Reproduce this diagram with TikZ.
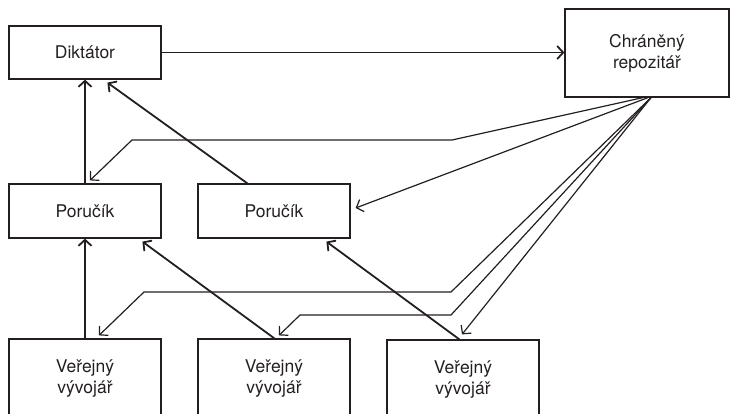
\documentclass[tikz,border=0pt]{standalone}
\usepackage{fontspec}
\setmainfont{TeX Gyre Heros}
\usetikzlibrary{arrows.meta,calc}
\definecolor{ink}{HTML}{231F20}
\begin{document}
\begin{tikzpicture}[x=1pt,y=-1pt,
  box/.style={draw=ink, text=ink, line width=1.2pt, minimum width=152pt, align=center, inner sep=0pt, font=\fontsize{17.5}{21}\selectfont},
  main/.style={draw=ink, line width=1.8pt, -{Straight Barb[length=6pt,width=13pt]}},
  thinarr/.style={draw=ink, line width=1.2pt, -{Straight Barb[length=6pt,width=13pt]}}]
\useasboundingbox (0,0) rectangle (730,413);
\clip (0,0) rectangle (730,413);
\node[box, minimum height=53pt] (dik) at (85,52.5) {Diktátor};
\node[box, minimum width=164pt, minimum height=88pt] (repo) at (647,53) {Chráněný\\repozitář};
\node[box, minimum height=54pt] (p1) at (85,211) {Poručík};
\node[box, minimum height=54pt] (p2) at (274,211) {Poručík};
\node[box, minimum height=80pt] (v1) at (85,379) {Veřejný\\vývojář};
\node[box, minimum height=80pt] (v2) at (274,379) {Veřejný\\vývojář};
\node[box, minimum height=80pt] (v3) at (463,380) {Veřejný\\vývojář};
% main arrows
\draw[main] (dik.east) -- (dik.east -| repo.west);
\draw[main] (p1.north) -- (dik.south);
\draw[main] ($(p2.north west)+(50,0)$) -- ($(dik.south west)+(99,3)$);
\draw[main] (v1.north) -- (p1.south);
\draw[main] ($(v2.north west)+(77,0)$) -- ($(p1.south west)+(134,3)$);
\draw[main] ($(v3.north west)+(73,0)$) -- ($(p2.south west)+(129,3)$);
% repository fan
\coordinate (r1) at ($(repo.south)+(-4,0)$);
\coordinate (r2) at ($(repo.south)+(4,0)$);
\coordinate (rm) at ($(repo.south)+(1,0)$);
\draw[thinarr] (r1) -- (452,140) -- (132,140) -- ($(p1.north)+(5,-3)$);
\draw[thinarr] (rm) -- ($(p2.east)+(5,-3)$);
\draw[thinarr] (r2) -- (451,292) -- (144,292) -- ($(v1.north)+(14,-3)$);
\draw[thinarr] (r2) -- (451,315) -- (300,315) -- ($(v2.north)+(5,-3)$);
\draw[thinarr] (r2) -- ($(v3.north)+(-1,-5)$);
\end{tikzpicture}
\end{document}
